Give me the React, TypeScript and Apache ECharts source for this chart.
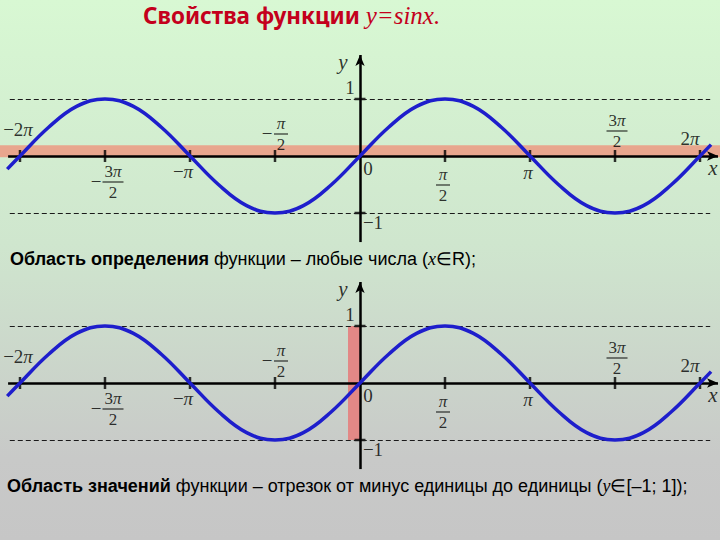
import React, { useEffect, useRef } from 'react';
import * as echarts from 'echarts';

// ---- data (x in units of π) ----
const sineX = [-2.075, -2, -1.833, -1.667, -1.5, -1.333, -1.167, -1, -0.833, -0.667, -0.5, -0.333, -0.167, 0, 0.167, 0.333, 0.5, 0.667, 0.833, 1, 1.167, 1.333, 1.5, 1.667, 1.833, 2, 2.065];
const sineY = [-0.23, 0, 0.5, 0.87, 1, 0.87, 0.5, 0, -0.5, -0.87, -1, -0.87, -0.5, 0, 0.5, 0.87, 1, 0.87, 0.5, 0, -0.5, -0.87, -1, -0.87, -0.5, 0, 0.2];
const tickX = [-2, -1.5, -1, -0.5, 0.5, 1, 1.5, 2];
const yTicks = [1, -1];
const boundLevels = [1, -1];
const dashedFrom = -2.06;
const dashedTo = 2.06;
const xAxisFrom = -2.07;
const xAxisTo = 2.106;
const yAxisFrom = -1.51;
const yAxisTo = 1.772;
const domainBand = { x1: -2.1176, x2: 2.1176, y1: -0.02, y2: 0.19 };
const rangeBand = { x1: -0.0706, x2: 0, y1: -1, y2: 1 };

// simple tick labels
const simpleX = [-2, -1, 1, 2, 0];
const simpleText = ['−2π', '−π', 'π', '2π', '0'];
const simpleOffset = [[-2, -26], [-7, 16], [-2, 17], [-10, -17], [8, 13]];
// fraction tick labels
const fracX = [-1.5, -0.5, 0.5, 1.5];
const fracNum = ['3π', 'π', 'π', '3π'];
const fracDen = ['2', '2', '2', '2'];
const fracNeg = [true, true, false, false];
const fracOffset = [[8, 26], [6, -22], [-2, 29], [2, -25]];
const minusOffset = [[-9, 26], [-8, -22]];

const XMIN = -2.1176;
const XMAX = 2.1176;
const YMAX = 1.8596;
const YMIN = -1.5614;

const SERIF = '"Liberation Serif", "Times New Roman", serif';
const SANS = '"Liberation Sans Narrow", "Liberation Sans", Arial, sans-serif';

function italPi(s: string, token: string) {
  return s.replace(/π/g, `{${token}|π}`);
}

function buildSeries(idx: number, withDomain: boolean) {
  const series: any[] = [];
  series.push({
    type: 'line', xAxisIndex: idx, yAxisIndex: idx, data: [], silent: true, z: 1,
    markArea: {
      silent: true,
      itemStyle: { color: withDomain ? '#E8A68E' : '#E28886' },
      data: withDomain
        ? [[{ coord: [domainBand.x1, domainBand.y2] }, { coord: [domainBand.x2, domainBand.y1] }]]
        : [[{ coord: [rangeBand.x1, rangeBand.y2] }, { coord: [rangeBand.x2, rangeBand.y1] }]],
    },
  });
  series.push({
    type: 'line', xAxisIndex: idx, yAxisIndex: idx, data: [], silent: true, z: 2,
    markLine: {
      silent: true, symbol: ['none', 'none'], label: { show: false },
      lineStyle: { color: '#1a1a1a', width: 1, type: [5, 3] },
      data: boundLevels.map((v) => [{ coord: [dashedFrom, v] }, { coord: [dashedTo, v] }]),
    },
  });
  series.push({
    type: 'line', xAxisIndex: idx, yAxisIndex: idx, data: [], silent: true, z: 3,
    markLine: {
      silent: true, symbol: ['none', 'arrow'], symbolSize: [7, 11], label: { show: false },
      lineStyle: { color: '#000', width: 2.5, type: 'solid' },
      data: [
        [{ coord: [xAxisFrom, 0] }, { coord: [xAxisTo, 0] }],
        [{ coord: [0, yAxisFrom] }, { coord: [0, yAxisTo] }],
      ],
    },
  });
  series.push({
    type: 'scatter', xAxisIndex: idx, yAxisIndex: idx, z: 4, silent: true,
    symbol: 'rect', symbolSize: [2.5, 12], itemStyle: { color: '#000' },
    data: tickX.map((x) => [x, 0]),
  });
  series.push({
    type: 'scatter', xAxisIndex: idx, yAxisIndex: idx, z: 4, silent: true,
    symbol: 'rect', symbolSize: [11, 2.5], itemStyle: { color: '#000' },
    data: yTicks.map((y) => [0, y]),
  });
  const labelData: any[] = [];
  simpleX.forEach((x, i) => {
    labelData.push({ value: [x, 0], label: { formatter: italPi(simpleText[i], 'i'), offset: simpleOffset[i] } });
  });
  fracX.forEach((x, i) => {
    const num = italPi(fracNum[i].replace(/(\d+)/, '{n|$1}'), 'ni');
    const bar = fracNum[i].length > 1 ? 'bw' : 'bn';
    labelData.push({ value: [x, 0], label: { formatter: `${num}\n{${bar}| }\n{d|${fracDen[i]}}`, offset: fracOffset[i] } });
  });
  let m = 0;
  fracX.forEach((x, i) => {
    if (fracNeg[i]) {
      labelData.push({ value: [x, 0], label: { formatter: '−', offset: minusOffset[m] } });
      m++;
    }
  });
  labelData.push({ value: [0, yTicks[0]], label: { formatter: '1', offset: [-10, -11] } });
  labelData.push({ value: [0, yTicks[1]], label: { formatter: '−1', offset: [13, 10] } });
  labelData.push({ value: [0, yAxisTo], label: { formatter: '{v|y}', offset: [-17, 7] } });
  labelData.push({ value: [xAxisTo, 0], label: { formatter: '{v|x}', offset: [-5, 12] } });
  series.push({
    type: 'scatter', xAxisIndex: idx, yAxisIndex: idx, z: 6, silent: true,
    symbolSize: 0,
    label: {
      show: true, position: 'inside', color: '#000', fontFamily: SERIF, fontSize: 19,
      rich: {
        i: { fontFamily: SERIF, fontStyle: 'italic', fontSize: 19, color: '#000' },
        v: { fontFamily: SERIF, fontStyle: 'italic', fontSize: 21, color: '#000' },
        n: { fontFamily: SERIF, fontSize: 17, lineHeight: 17, color: '#000' },
        ni: { fontFamily: SERIF, fontStyle: 'italic', fontSize: 17, lineHeight: 17, color: '#000' },
        d: { fontFamily: SERIF, fontSize: 17, lineHeight: 17, color: '#000' },
        bw: { width: 21, height: 1.2, lineHeight: 4, backgroundColor: '#000', fontSize: 2 },
        bn: { width: 14, height: 1.2, lineHeight: 4, backgroundColor: '#000', fontSize: 2 },
      },
    },
    data: labelData,
  });
  series.push({
    type: 'line', xAxisIndex: idx, yAxisIndex: idx, z: 5, silent: true,
    smooth: 0.4, showSymbol: false,
    lineStyle: { color: '#1E1ECC', width: 3.5 },
    data: sineX.map((x, i) => [x, sineY[i]]),
  });
  return series;
}

export default function App() {
  const ref = useRef<HTMLDivElement>(null);
  useEffect(() => {
    document.body.style.margin = '0';
    const chart = echarts.init(ref.current!, undefined, { renderer: 'svg' });
    const grids = [
      { left: 0, right: 0, top: 50, height: 195 },
      { left: 0, right: 0, top: 277, height: 195 },
    ];
    chart.setOption({
      animation: false,
      backgroundColor: new echarts.graphic.LinearGradient(0, 0, 0, 1, [
        { offset: 0, color: '#D8F8D3' },
        { offset: 0.45, color: '#CFE6CE' },
        { offset: 0.85, color: '#C8C9C8' },
        { offset: 1, color: '#C6C6C6' },
      ]),
      grid: grids,
      xAxis: [0, 1].map((i) => ({ type: 'value', gridIndex: i, min: XMIN, max: XMAX, show: false })),
      yAxis: [0, 1].map((i) => ({ type: 'value', gridIndex: i, min: YMIN, max: YMAX, show: false })),
      series: [...buildSeries(0, true), ...buildSeries(1, false)],
      graphic: [
        {
          type: 'text', left: 143, top: 3,
          style: {
            text: '{a|Свойства функции }{b|y=sinx.}',
            rich: {
              a: { fontFamily: '"Noto Sans", sans-serif', fontWeight: 'bold', fontSize: 22.5, fill: '#C4001C' },
              b: { fontFamily: SERIF, fontStyle: 'italic', fontSize: 25, fill: '#C4001C' },
            },
          },
        },
        {
          type: 'text', left: 10, top: 250,
          style: {
            text: '{b|Область определения} функции – любые числа ({i|x}∈R);',
            fontFamily: SANS, fontSize: 18, fill: '#000',
            rich: {
              b: { fontFamily: SANS, fontWeight: 'bold', fontSize: 18, fill: '#000' },
              i: { fontFamily: SERIF, fontStyle: 'italic', fontSize: 18, fill: '#000' },
            },
          },
        },
        {
          type: 'text', left: 7, top: 477,
          style: {
            text: '{b|Область значений} функции – отрезок от минус единицы до единицы ({i|y}∈[–1; 1]);',
            fontFamily: SANS, fontSize: 18, fill: '#000',
            rich: {
              b: { fontFamily: SANS, fontWeight: 'bold', fontSize: 18, fill: '#000' },
              i: { fontFamily: SERIF, fontStyle: 'italic', fontSize: 18, fill: '#000' },
            },
          },
        },
      ],
    });
    return () => chart.dispose();
  }, []);
  return <div ref={ref} style={{ width: 720, height: 540 }} />;
}
